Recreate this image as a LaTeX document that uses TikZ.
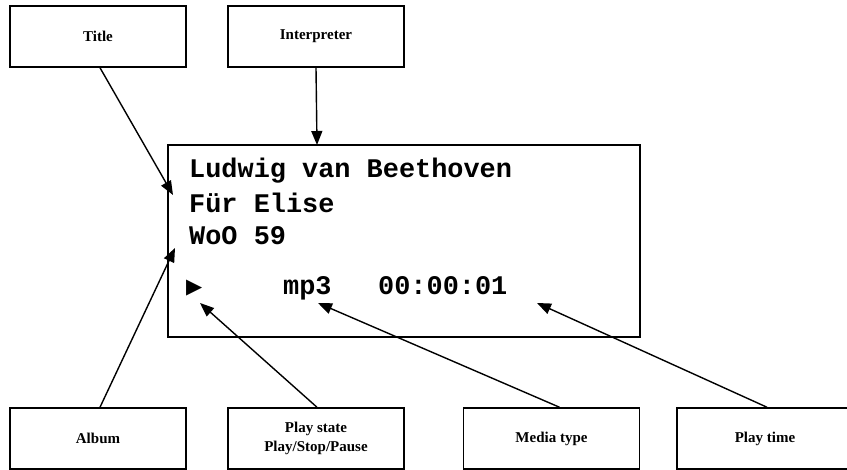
\documentclass[tikz,border=0pt]{standalone}
\usepackage{fontspec}
\setmainfont{Liberation Serif}
\newfontfamily\lcdfont{Liberation Mono}
\newfontfamily\symfont{DejaVu Sans}
\usetikzlibrary{positioning,calc}
\usetikzlibrary{arrows.meta}
\tikzset{
  lbl/.style={draw=black,line width=1.5pt,minimum width=176pt,minimum height=61pt,
    inner sep=0pt,align=center,font=\bfseries\fontsize{15}{19}\selectfont},
  ptr/.style={draw=black,line width=1.4pt,-{Triangle[length=14pt,width=11pt]}},
  screen/.style={draw=black,line width=1.5pt},
  lcd/.style={anchor=base west,inner sep=0pt,font=\lcdfont\bfseries\fontsize{26.9}{30}\selectfont},
}

\begin{document}
\begin{tikzpicture}[x=1pt,y=-1pt]
\useasboundingbox (0,0) rectangle (847,470);
% the display
\draw[screen] (168,145) rectangle (640,337);
\coordinate (tTitle) at (173,195);
\coordinate (tAlbum) at (175,248);
\coordinate (tInterp) at (317,145);
\coordinate (tState) at (200,303);
\coordinate (tMedia) at (318,303);
\coordinate (tTime) at (537,303);
\node[lcd] (l1) at (189,178) {Ludwig van Beethoven};
\node[lcd] (l2) at (189,213) {Für Elise};
\node[lcd] (l3) at (189,245) {WoO 59};
\node[anchor=base west,inner sep=0pt,font=\symfont\fontsize{21}{24}\selectfont] (st) at (186,294) {▶};
\node[lcd] (mt) at (283,295) {mp3};
\node[lcd] (pt) at (378,295) {00:00:01};
% the labels
\node[lbl] (title) at (98,36.5) {Title};
\node[lbl] (interp) at (316,36.5) {Interpreter};
\node[lbl] (album) at (98,438.5) {Album};
\node[lbl] (state) at (316,438.5) {Play state\\Play/Stop/Pause};
\node[lbl] (media) at (551.5,438.5) {Media type};
\node[lbl] (ptime) at (765,438.5) {Play time};
% pointers
\draw[ptr] ($(title.south)+(2,0)$) -- (tTitle);
\draw[ptr] (interp.south) -- (tInterp);
\draw[ptr] ($(album.north)+(2,0)$) -- (tAlbum);
\draw[ptr] ($(state.north)+(1,0)$) -- (tState);
\draw[ptr] ($(media.north)+(8,0)$) -- (tMedia);
\draw[ptr] ($(ptime.north)+(2,0)$) -- (tTime);
\end{tikzpicture}
\end{document}
